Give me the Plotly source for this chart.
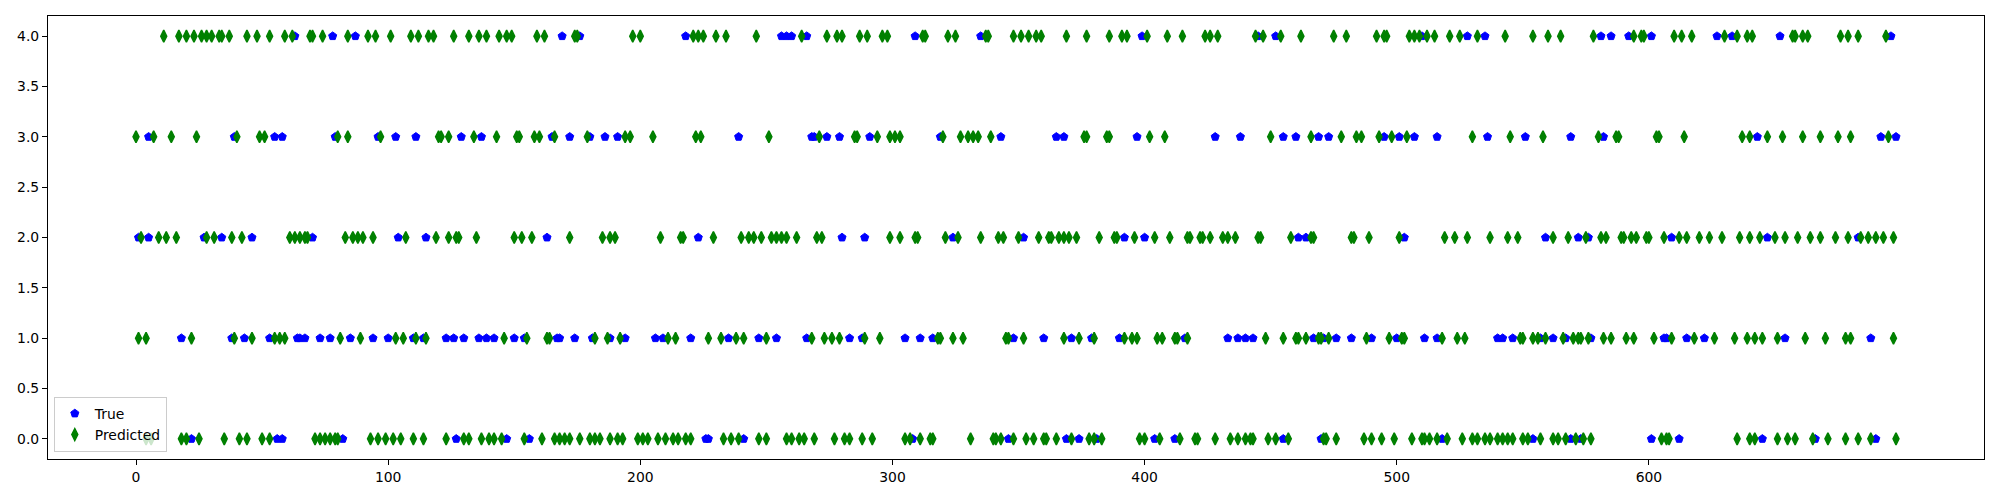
import plotly.graph_objects as go

# Sample indices (x) at which each class is visible.
# Predicted (green thin diamonds)
pred_class4 = [11, 17, 20, 23, 26, 28, 30, 33, 34, 37, 44, 48, 53, 59, 62, 69, 70, 74, 84, 92, 95, 101, 109, 112, 116, 118,
               126, 132, 136, 139, 144, 147, 149, 159, 162, 174, 175, 197, 200, 221, 223, 225, 230, 234, 246, 264, 274, 278,
               280, 287, 290, 296, 298, 312, 313, 322, 325, 337, 338, 348, 351, 354, 357, 359, 369, 377, 386, 391, 393, 401,
               409, 415, 424, 426, 429, 444, 447, 454, 462, 475, 480, 492, 495, 496, 505, 507, 509, 512, 515, 521, 525, 532,
               543, 554, 560, 565, 578, 594, 597, 598, 610, 613, 617, 630, 635, 639, 641, 657, 658, 661, 663, 676, 679, 683, 694]
pred_class3 = [0, 7, 14, 24, 40, 49, 51, 80, 84, 97, 120, 121, 124, 134, 143, 151, 152, 158, 160, 166, 179, 194, 196, 205,
               222, 224, 251, 271, 285, 286, 294, 299, 301, 303, 320, 327, 330, 332, 334, 339, 376, 377, 385, 386, 402, 408,
               450, 466, 478, 484, 486, 493, 498, 504, 530, 545, 558, 580, 587, 588, 603, 604, 614,
               637, 640, 647, 653, 661, 668, 675, 680, 695]
pred_class2 = [2, 9, 12, 16, 28, 31, 38, 42, 61, 63, 65, 67, 68, 83, 86, 88, 90, 94, 107, 119, 124, 127, 128, 135, 150, 153,
               157, 172, 185, 188, 190, 208, 216, 217, 229, 240, 243, 245, 248, 252, 254, 256, 258, 262, 270, 272, 299, 303,
               309, 310, 321, 326, 335, 342, 344, 350, 358, 362, 363, 366, 368, 370, 373, 382, 388, 389, 396, 404, 410, 417,
               418, 422, 423, 426, 431, 433, 436, 445, 446, 458, 466, 467, 482, 483, 489, 501, 519, 523, 528, 537, 544, 548,
               562, 568, 575, 581, 583, 589, 590, 593, 595, 599, 600, 606, 612, 615,
               620, 624, 629, 636, 640, 644, 650, 654, 659, 664, 668, 674, 679, 684, 687, 690, 693, 697]
pred_class1 = [1, 4, 22, 39, 46, 55, 57, 59, 81, 89, 103, 106, 111, 115, 146, 155, 163, 164, 182, 187, 192, 211, 214, 227,
               232, 238, 241, 250, 268, 273, 276, 279, 289, 295, 318, 319, 324, 328, 345, 346, 352, 368, 374, 380, 392, 395,
               397, 405, 407, 412, 413, 417, 448, 455, 460, 461, 464, 469, 470, 473, 488, 497, 502, 503, 518, 524, 527, 549,
               550, 554, 556, 559, 566, 570, 572, 573, 576, 582, 585, 591, 594, 602, 609,
               618, 626, 634, 639, 642, 645, 651, 662, 670, 678, 680, 697]
pred_class0 = [4, 6, 18, 20, 25, 35, 41, 44, 50, 53, 71, 73, 75, 77, 79, 80, 93, 96, 99, 102, 105, 110, 114, 123, 130, 132,
               137, 140, 142, 145, 154, 161, 166, 168, 170, 172, 176, 180, 182, 184, 188, 191, 193, 199, 201, 203, 207, 210,
               213, 215, 218, 220, 233, 236, 239, 247, 250, 258, 260, 263, 265, 269, 277, 281, 283, 288, 292, 305, 307, 311,
               315, 316, 331, 340, 341, 343, 348, 353, 356, 360, 361, 365, 371, 378, 380, 383, 398, 400, 406, 414, 420, 421,
               428, 434, 437, 440, 442, 443, 449, 452, 457, 471, 472, 476, 487, 490, 494, 499, 506, 510, 511, 513, 516, 520,
               526, 530, 532, 535, 537, 540, 542, 544, 546, 550, 552, 557, 562, 564, 567, 571, 574, 577, 605, 607, 608,
               635, 640, 642, 651, 655, 658, 665, 671, 678, 683, 688, 698]

# True (blue pentagons) where they differ from the prediction
true_class4 = [63, 78, 87, 169, 176, 218, 256, 258, 260, 266, 309, 335, 399, 445, 452, 510, 528, 535, 581, 585, 592, 601,
               627, 633, 652, 696]
true_class3 = [5, 39, 55, 58, 79, 96, 103, 111, 129, 137, 165, 172, 180, 186, 191, 239, 268, 269, 274, 279, 291, 319, 343,
               365, 368, 397, 428, 438, 455, 460, 469, 473, 495, 501, 507, 516, 536, 551, 569, 582, 643, 692, 698]
true_class2 = [1, 5, 27, 34, 46, 70, 104, 115, 163, 223, 280, 289, 324, 352, 392, 400, 461, 464, 503, 559, 572, 576, 609,
               647, 683]
true_class1 = [18, 38, 43, 53, 64, 65, 67, 73, 77, 85, 94, 100, 110, 114, 123, 126, 130, 136, 139, 142, 150, 154, 167, 168,
               174, 181, 188, 194, 206, 209, 220, 235, 247, 254, 266, 283, 288, 305, 311, 316, 348, 360, 371, 379, 390, 416,
               433, 437, 440, 443, 467, 471, 476, 482, 490, 500, 511, 516, 540, 542, 546, 557, 562, 567, 577, 606, 607, 615,
               622, 654, 688]
true_class0 = [22, 56, 58, 82, 127, 147, 156, 226, 227, 241, 308, 346, 369, 374, 381, 404, 412, 455, 470, 518, 554, 569,
               573, 601, 612, 645, 666, 690]

n_samples = 699
x_ticks = [0, 100, 200, 300, 400, 500, 600]
y_ticks = [0.0, 0.5, 1.0, 1.5, 2.0, 2.5, 3.0, 3.5, 4.0]


def flatten(groups):
    xs, ys = [], []
    for cls, idx in groups:
        xs += idx
        ys += [cls] * len(idx)
    return xs, ys


tx, ty = flatten([(0, true_class0), (1, true_class1), (2, true_class2), (3, true_class3), (4, true_class4)])
px, py = flatten([(0, pred_class0), (1, pred_class1), (2, pred_class2), (3, pred_class3), (4, pred_class4)])

fig = go.Figure()
fig.add_trace(go.Scatter(x=tx, y=ty, mode="markers", name="True",
                         marker=dict(symbol="pentagon", size=8.5, color="blue",
                                     line=dict(color="blue", width=1))))
fig.add_trace(go.Scatter(x=px, y=py, mode="markers", name="Predicted",
                         marker=dict(symbol="diamond-tall", size=8.5, color="green",
                                     line=dict(color="green", width=1.5))))

xmax = n_samples - 1
axis_common = dict(showline=True, mirror=True, linecolor="black", linewidth=1.1,
                   ticks="outside", ticklen=5, tickwidth=1.1, tickcolor="black",
                   showgrid=False, zeroline=False,
                   tickfont=dict(family="DejaVu Sans", size=13.9, color="black"))
# the page body has an 8px margin, so the figure is sized/offset to compensate
fig.update_layout(
    width=1984, height=484,
    margin=dict(l=40, r=7, t=7, b=31),
    plot_bgcolor="white", paper_bgcolor="white",
    font=dict(family="DejaVu Sans", size=13.9, color="black"),
    xaxis=dict(range=[-0.05 * xmax, 1.05 * xmax], tickvals=x_ticks,
               ticktext=[str(v) for v in x_ticks], **axis_common),
    yaxis=dict(range=[-0.2, 4.2], tickvals=y_ticks,
               ticktext=[f"{v:.1f}" for v in y_ticks], **axis_common),
    legend=dict(x=0.003, y=0.016, xanchor="left", yanchor="bottom",
                bgcolor="rgba(255,255,255,0.8)", bordercolor="#cccccc", borderwidth=1,
                font=dict(family="DejaVu Sans", size=13.9, color="black"),
                itemwidth=30, tracegroupgap=0),
    showlegend=True,
)

fig.write_html("out.html")
